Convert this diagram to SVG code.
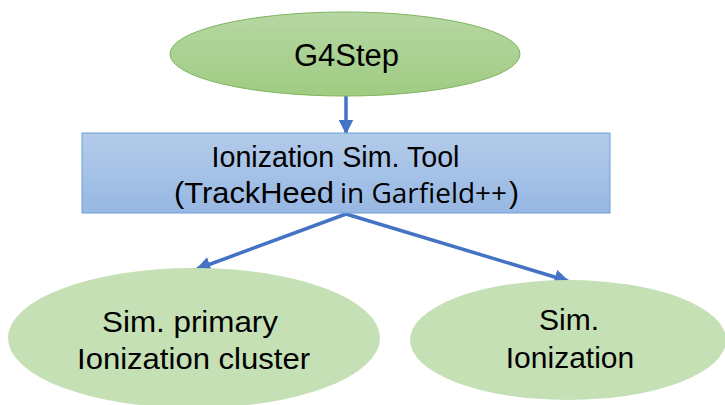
<svg xmlns="http://www.w3.org/2000/svg" width="725" height="405" viewBox="0 0 725 405">
  <defs>
    <linearGradient id="gGreen" x1="0" y1="0" x2="0" y2="1">
      <stop offset="0" stop-color="#b7d7a3"/>
      <stop offset="1" stop-color="#9fcb82"/>
    </linearGradient>
    <linearGradient id="gBlue" x1="0" y1="0" x2="0" y2="1">
      <stop offset="0" stop-color="#b3cbea"/>
      <stop offset="1" stop-color="#97b8e3"/>
    </linearGradient>
    <marker id="arrow" viewBox="0 0 10 10" refX="9" refY="5" markerUnits="userSpaceOnUse" markerWidth="15" markerHeight="15" orient="auto">
      <path d="M0,0 L10,5 L0,10 Z" fill="#4472c4"/>
    </marker>
    <style>
      .lbl { font-family: "Liberation Sans", Arial, sans-serif; font-size: 30px; fill: #000; text-anchor: middle; }
      .start { text-anchor: start; }
      .cal { font-family: "Open Sans", "Liberation Sans", sans-serif; font-size: 27px; fill: #000; }
      .conn { stroke: #4472c4; stroke-width: 3.5; fill: none; marker-end: url(#arrow); }
      .leaf { fill: #c5e0b4; }
    </style>
  </defs>

  <g id="connectors">
    <line class="conn" x1="346" y1="96" x2="346" y2="133"/>
    <line class="conn" x1="346" y1="214" x2="197" y2="269"/>
    <line class="conn" x1="346" y1="214" x2="568" y2="281"/>
  </g>

  <g id="g4step">
    <ellipse cx="345" cy="54" rx="175" ry="42" fill="url(#gGreen)" stroke="#7fb55e" stroke-width="1"/>
    <text class="lbl" x="346.5" y="66" style="font-size:31px">G4Step</text>
  </g>

  <g id="ionization-tool">
    <rect x="82" y="133" width="528" height="80" fill="url(#gBlue)" stroke="#6f9fd8" stroke-width="1"/>
    <text class="lbl start" x="211.5" y="167" textLength="248" lengthAdjust="spacingAndGlyphs">Ionization Sim. Tool</text>
    <text class="lbl start" x="174" y="203" textLength="160" lengthAdjust="spacingAndGlyphs">(TrackHeed</text>
    <text class="cal" x="340" y="203" textLength="167" lengthAdjust="spacingAndGlyphs">in Garfield++</text>
    <text class="lbl start" x="509" y="203">)</text>
  </g>

  <g id="primary-cluster">
    <ellipse class="leaf" cx="194" cy="338" rx="186" ry="70"/>
    <text class="lbl" x="190" y="332" textLength="176" lengthAdjust="spacingAndGlyphs">Sim. primary</text>
    <text class="lbl" x="193.5" y="369" textLength="233" lengthAdjust="spacingAndGlyphs">Ionization cluster</text>
  </g>

  <g id="sim-ionization">
    <ellipse class="leaf" cx="568" cy="340" rx="158" ry="60"/>
    <text class="lbl" x="569" y="330">Sim.</text>
    <text class="lbl" x="570" y="368">Ionization</text>
  </g>
</svg>
